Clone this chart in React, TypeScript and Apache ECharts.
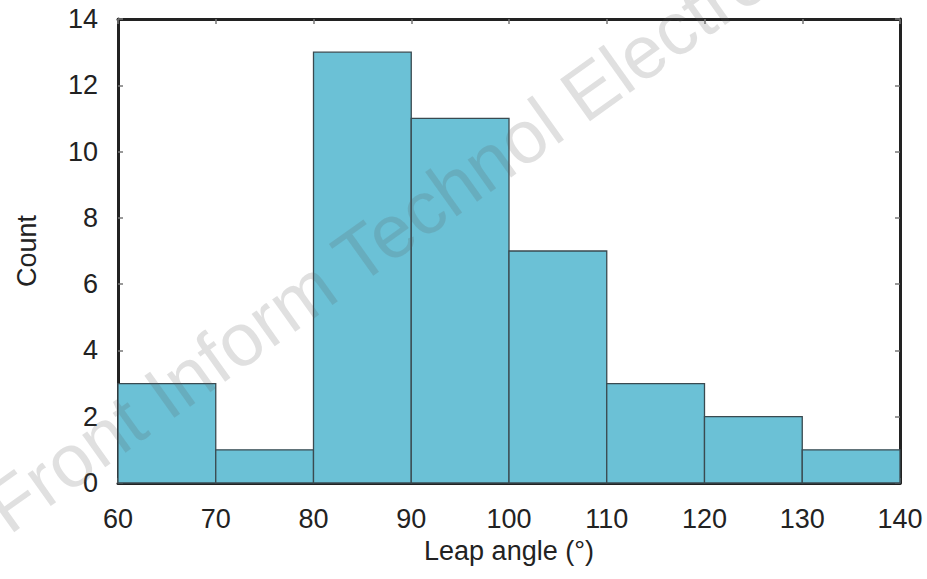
import React, { useEffect, useRef } from "react";
import * as echarts from "echarts";

const binStarts = [60, 70, 80, 90, 100, 110, 120, 130];
const binWidth = 10;
const counts = [3, 1, 13, 11, 7, 3, 2, 1];
const xTicks = [60, 70, 80, 90, 100, 110, 120, 130, 140];
const yTicks = [0, 2, 4, 6, 8, 10, 12, 14];
const watermark = "Front Inform Technol Electron Eng";

export default function App() {
  const ref = useRef<HTMLDivElement>(null);
  useEffect(() => {
    document.body.style.margin = "0";
    const chart = echarts.init(ref.current!, null, { renderer: "svg" });
    const font = "Liberation Sans, Arial, Helvetica, sans-serif";
    const data = binStarts.map((s, i) => [s, s + binWidth, counts[i]]);
    const frame = { show: true, onZero: false, lineStyle: { color: "#222", width: 3 } };
    const tick = { show: true, inside: true, length: 5, lineStyle: { color: "#777", width: 1.5 } };
    chart.setOption({
      animation: false,
      backgroundColor: "#fff",
      grid: { left: 118, right: 27, top: 19, bottom: 96 },
      xAxis: [
        {
          type: "value",
          min: xTicks[0],
          max: xTicks[xTicks.length - 1],
          interval: 10,
          position: "bottom",
          axisLine: frame,
          axisTick: tick,
          splitLine: { show: false },
          axisLabel: { fontSize: 27, color: "#222", fontFamily: font, margin: 22 },
          name: "Leap angle (°)",
          nameLocation: "middle",
          nameGap: 54,
          nameTextStyle: { fontSize: 27, color: "#222", fontFamily: font },
        },
        {
          type: "value",
          min: xTicks[0],
          max: xTicks[xTicks.length - 1],
          interval: 10,
          position: "top",
          axisLine: frame,
          axisTick: tick,
          splitLine: { show: false },
          axisLabel: { show: false },
        },
      ],
      yAxis: [
        {
          type: "value",
          min: yTicks[0],
          max: yTicks[yTicks.length - 1],
          interval: 2,
          position: "left",
          axisLine: frame,
          axisTick: tick,
          splitLine: { show: false },
          axisLabel: { fontSize: 27, color: "#222", fontFamily: font, margin: 20 },
          name: "Count",
          nameLocation: "middle",
          nameGap: 78,
          nameTextStyle: { fontSize: 27, color: "#222", fontFamily: font },
        },
        {
          type: "value",
          min: yTicks[0],
          max: yTicks[yTicks.length - 1],
          interval: 2,
          position: "right",
          axisLine: frame,
          axisTick: tick,
          splitLine: { show: false },
          axisLabel: { show: false },
        },
      ],
      series: [
        {
          type: "custom",
          xAxisIndex: 0,
          yAxisIndex: 0,
          data,
          encode: { x: [0, 1], y: 2 },
          renderItem: (params: any, api: any) => {
            const p0 = api.coord([api.value(0), api.value(2)]);
            const p1 = api.coord([api.value(1), 0]);
            return {
              type: "rect",
              shape: { x: p0[0], y: p0[1], width: p1[0] - p0[0], height: p1[1] - p0[1] },
              style: { fill: "#6bc1d6", stroke: "#3a4a50", lineWidth: 1.3 },
            };
          },
        },
      ],
      graphic: [
        {
          type: "text",
          x: 16,
          y: 545,
          rotation: (35.5 * Math.PI) / 180,
          z: 100,
          silent: true,
          style: {
            text: watermark,
            font: `75px ${font}`,
            fill: "rgba(90,90,90,0.19)",
            textAlign: "left",
            textVerticalAlign: "bottom",
          },
        },
      ],
    });
    return () => chart.dispose();
  }, []);
  return <div ref={ref} style={{ width: 927, height: 579 }} />;
}
